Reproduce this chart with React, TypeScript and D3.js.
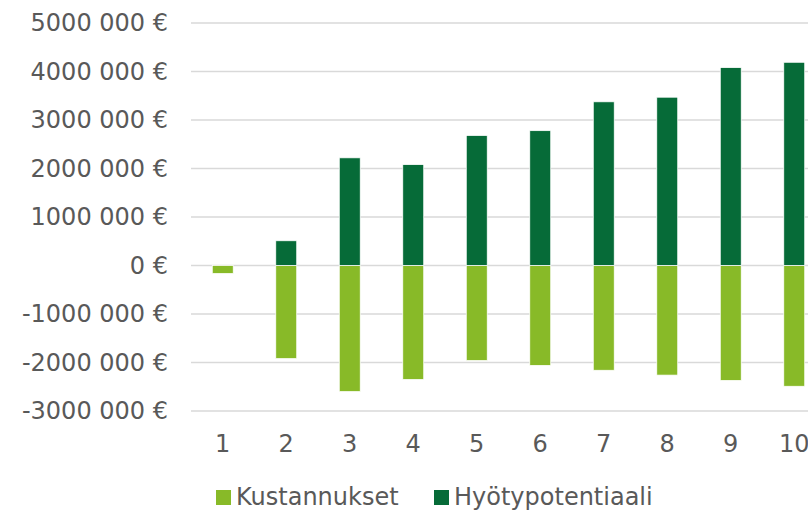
import { useEffect, useRef } from "react";
import * as d3 from "d3";

const categories = ["1", "2", "3", "4", "5", "6", "7", "8", "9", "10"];
const kustannukset = [-165000, -1920000, -2600000, -2350000, -1960000, -2060000, -2160000, -2260000, -2370000, -2490000];
const hyotypotentiaali = [0, 510000, 2220000, 2080000, 2680000, 2780000, 3375000, 3470000, 4080000, 4190000];
const yTicks = [-3000000, -2000000, -1000000, 0, 1000000, 2000000, 3000000, 4000000, 5000000];
const seriesNames = ["Kustannukset", "Hyötypotentiaali"];

const LIGHT = "#88ba28";
const DARK = "#066b38";
const TEXT = "#595959";
const FONT = "'DejaVu Sans', Verdana, sans-serif";
const FS = 24;

const fmt = (v: number) => (v === 0 ? "0 €" : `${v / 1000} 000 €`);

export default function App() {
  const svgRef = useRef<SVGSVGElement | null>(null);

  useEffect(() => {
    const width = 808;
    const height = 510;
    const left = 191;
    const right = 826; // plot runs past the visible edge

    const svg = d3.select(svgRef.current).attr("width", width).attr("height", height);
    svg.selectAll("*").remove();

    const x = d3.scaleBand().domain(categories).range([left, right]).paddingInner(0.67).paddingOuter(0.335);
    const y = d3.scaleLinear().domain([-3000000, 5000000]).range([411, 23]);

    // grid
    svg
      .append("g")
      .selectAll("line")
      .data(yTicks)
      .join("line")
      .attr("x1", left)
      .attr("x2", right)
      .attr("y1", (d) => y(d))
      .attr("y2", (d) => y(d))
      .attr("stroke", "#d9d9d9")
      .attr("stroke-width", 1.3);

    // y labels
    svg
      .append("g")
      .selectAll("text")
      .data(yTicks)
      .join("text")
      .attr("x", 168)
      .attr("y", (d) => y(d))
      .attr("dy", "0.35em")
      .attr("text-anchor", "end")
      .attr("font-family", FONT)
      .attr("font-size", FS)
      .attr("fill", TEXT)
      .text((d) => fmt(d));

    const bars = svg.append("g");
    bars
      .selectAll("rect.k")
      .data(kustannukset)
      .join("rect")
      .attr("class", "k")
      .attr("x", (_, i) => x(categories[i])!)
      .attr("width", x.bandwidth())
      .attr("y", y(0))
      .attr("height", (d) => y(d) - y(0))
      .attr("fill", LIGHT)
      .attr("stroke", "#fff")
      .attr("stroke-width", 0.75);

    bars
      .selectAll("rect.h")
      .data(hyotypotentiaali)
      .join("rect")
      .attr("class", "h")
      .attr("x", (_, i) => x(categories[i])!)
      .attr("width", x.bandwidth())
      .attr("y", (d) => y(d))
      .attr("height", (d) => y(0) - y(d))
      .attr("fill", DARK)
      .attr("stroke", "#fff")
      .attr("stroke-width", 0.75);

    // x labels
    svg
      .append("g")
      .selectAll("text")
      .data(categories)
      .join("text")
      .attr("x", (d) => x(d)! + x.bandwidth() / 2)
      .attr("y", 452)
      .attr("text-anchor", "middle")
      .attr("font-family", FONT)
      .attr("font-size", FS)
      .attr("fill", TEXT)
      .text((d) => d);

    // legend
    const legend = svg.append("g");
    const items = [
      { name: seriesNames[0], color: LIGHT, x: 216 },
      { name: seriesNames[1], color: DARK, x: 434 },
    ];
    items.forEach((it) => {
      legend.append("rect").attr("x", it.x).attr("y", 490).attr("width", 15).attr("height", 15).attr("fill", it.color);
      legend
        .append("text")
        .attr("x", it.x + 20)
        .attr("y", 505)
        .attr("font-family", FONT)
        .attr("font-size", FS)
        .attr("fill", TEXT)
        .text(it.name);
    });
  }, []);

  return (
    <div style={{ position: "absolute", left: 0, top: 0, width: 808, height: 510, overflow: "hidden", background: "#fff" }}>
      <svg ref={svgRef} style={{ display: "block" }}></svg>
    </div>
  );
}
